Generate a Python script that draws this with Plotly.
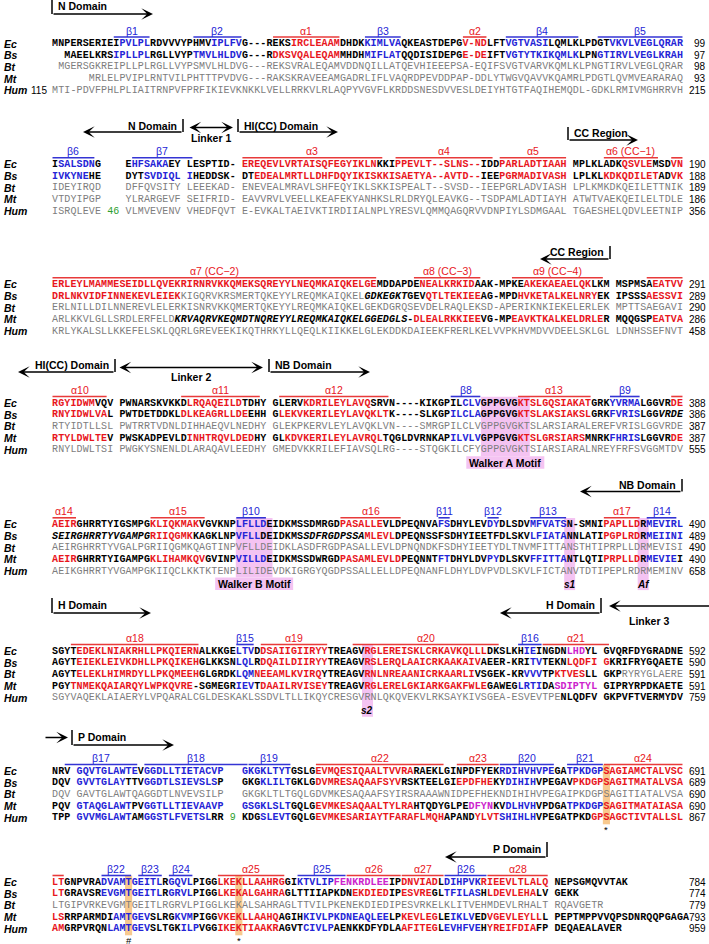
import plotly.graph_objects as go

SPECIES = ["Ec", "Bs", "Bt", "Mt", "Hum"]

# Residue markup: {h:..} helix, {e:..} strand, {m:..} 3-10 helix, {d:..} disordered,
# {n:..} insertion length, {k:..} modelled coil, {u:..} not modelled; other chars use row state.
SEQ_1 = [
    "MNPERSERIEI{e:PVLPL}RDVVVYPHMV{e:IPLFV}G---REKS{h:IRCLEAAM}DHDK{e:KIMLVA}QKEASTDEPG{h:V-ND}LFT{e:VGTVASI}LQMLKLPDGT{e:VKVLVEGLQRAR}",
    "  MAEELKRS{e:IPLLPL}RGLLVYP{e:TMVLHLDV}G---R{h:DKSVQALEQAM}MHDH{e:MIFLAT}QQDISIDEPG{h:E-DE}IFT{e:VGTYTKIKQMLK}LPN{e:GTIRVLVEGLKRAH}",
    " MGERSGKREIPLLPLRGLLVYPSMVLHLDVG---REKSVRALEQAMVDDNQILLATQEVHIEEEPSA-EQIFSVGTVARVKQMLKLPNGTIRVLVEGLQRAR",
    "      MRLELPVIPLRNTVILPHTTTPVDVG---RAKSKRAVEEAMGADRLIFLVAQRDPEVDDPAP-DDLYTWGVQAVVKQAMRLPDGTLQVMVEARARAQ",
    "MTI-PDVFPHLPLIAITRNPVFPRFIKIEVKNKKLVELLRRKVLRLAQPYVGVFLKRDDSNESDVVESLDEIYHTGTFAQIHEMQDL-GDKLRMIVMGHRRVH",
]
SEQ_2 = [
    "I{e:SALSDN}G    E{e:HFSAKA}EY LESPTID- {h:EREQEVLVRTAISQFEGYIKLN}KKI{h:PPEVLT--SLNS--}IDD{h:PARLADTIAAH} MPLKLADK{h:QSVLE}MSD{h:VN}",
    "{e:IVKYNE}HE    DYT{e:SVDIQL} {e:I}HEDDSK- DT{h:EDEALMRTLLDHFDQYIKISKKISAETYA--AVTD--}IEE{h:PGRMADIVASH} LPLKL{h:KDKQDILET}AD{h:VK}",
    "IDEYIRQD    DFFQVSITY LEEEKAD- ENEVEALMRAVLSHFEQYIKLSKKISPEALT--SVSD--IEEPGRLADVIASH LPLKMKDKQEILETTNIK",
    "VTDYIPGP    YLRARGEVF SEIFRID- EAVVRVLVEELLKEAFEKYANHKSLRLDRYQLEAVKG--TSDPAMLADTIAYH ATWTVAEKQEILELTDLE",
    "ISRQLEVE {n:46} VLMVEVENV VHEDFQVT E-EVKALTAEIVKTIRDIIALNPLYRESVLQMMQAGQRVVDNPIYLSDMGAAL TGAESHELQDVLEETNIP",
]
SEQ_3 = [
    "{h:ERLEYLMAMMESEIDLLQVEKRIRNRVKKQMEKSQREYYLNEQMKAIQKELGE}MDDAPDE{h:NEALKRKID}AAK-MPKE{h:AKEKAEAELQK}LKM MSPMSA{h:EATVV}",
    "{h:DRLNKVIDFINNEKEVLEIEK}{u:KIGQRVKRSMERTQKEYYLREQMKAIQKEL}{d:GDKEGKT}GEV{h:QTLTEKIEE}AG-MPD{h:HVKETALKELNRY}EK IPSSS{h:AESSVI}",
    "ERLNILLDILNNEREVLELERKISNRVKKQMERTQKEYYLREQMKAIQKELGEKDGRQSEVDELRAQLEKSD-APERIKNKIEKELERLEK MPTTSAEGAVI",
    "{u:ARLKKVLGLLSRDLERFELD}{d:KRVAQRVKEQMDTNQREYYLREQMKAIQKELGGEDGLS}-{h:DLEALRKKIEE}VG-MP{h:EAVKTKALKELDRLE}R MQQGSP{h:EATVA}",
    "KRLYKALSLLKKEFELSKLQQRLGREVEEKIKQTHRKYLLQEQLKIIKKELGLEKDDKDAIEEKFRERLKELVVPKHVMDVVDEELSKLGL LDNHSSEFNVT",
]
SEQ_4 = [
    "{h:RGYIDWM}VQV PWNARSKVKKD{h:LRQAQEILD}TDHY GLERV{h:KDRILEYLAVQ}SRVN----KIKGPIL{e:CLV}GPPGVG{h:KTSLGQSIAKAT}GRK{e:YVRMA}LGGVR{h:DE}",
    "{h:RNYIDWLVA}L PWTDETDDKL{h:DLKEAGRLLDE}EHH G{h:LEKVKERILEYLAVQKLT}K----SLKGP{e:ILCLA}GPPGVG{h:KTSLAKSIAKSL}GRK{e:FVRIS}LGG{d:VRDE}",
    "RTYIDTLLSL PWTRRTVDNLDIHHAEQVLNEDHY GLEKPKERVLEYLAVQKLVN----SMRGPILCLVGPPGVGKTSLARSIARALEREFVRISLGGVRDE",
    "{h:RTYLDWLTE}V PWSKADPEVLD{h:INHTRQVLDED}HY GL{h:KDVKERILEYLAVRQL}TQGLDVRNKAP{e:ILVLV}GPPGVG{h:KTSLGRSIARS}MNRK{e:FHRIS}LGGVR{h:DE}",
    "RNYLDWLTSI PWGKYSNENLDLARAQAVLEEDHY GMEDVKKRILEFIAVSQLRG----STQGKILCFYGPPGVGKTSIARSIARALNREYFRFSVGGMTDV",
]
SEQ_5 = [
    "{h:AEIR}GHRRTYIGSMPG{h:KLIQKMAK}VGVKNP{e:LFLLD}EIDKMSSDMRGD{h:PASALLE}VLDPEQNVA{e:FS}DHYLEV{e:DY}DLSDV{e:MFVATS}N-SMNI{h:PAPLLD}R{e:MEVIRL}",
    "{d:SEIRGHRRTYVGAMPG}{h:RIIQGMK}KAGKLNP{e:VFLL}DEIDKMS{d:SDFRGDPSSA}{h:MLEVL}DPEQNSSFSDHYIEETFDLSKV{e:LFIATA}NNLATI{h:PGPLRD}R{e:MEIINI}",
    "AEIRGHRRTYVGALPGRIIQGMKQAGTINPVFLLDEIDKLASDFRGDPASALLEVLDPNQNDKFSDHYIEETYDLTNVMFITTANSTHTIPRPLLDRMEVISI",
    "{h:AEIR}GHRRTYIGAMPG{h:KLIHAMKQV}GVINP{e:VILLD}EIDKMSSDWRGD{h:PASAMLEVLD}PEQNNT{e:FT}DHYLDV{e:PY}DLSKV{e:FFITTA}NTLQTI{h:PRPLLD}R{e:MEVIE}I",
    "AEIKGHRRTYVGAMPGKIIQCLKKTKTENPLILIDEVDKIGRGYQGDPSSALLELLDPEQNANFLDHYLDVPVDLSKVLFICTANVTDTIPEPLRDRMEMINV",
]
SEQ_6 = [
    "SGYT{h:EDEKLNIAKRHLLPKQIERN}ALKKGE{e:LTV}D{h:DSAIIGIIRYY}TREAGV{h:RGLEREISKLCRKAVKQLLL}DKSLKH{e:IE}INGDN{m:LHD}YL GVQRFDYGRADNE",
    "AGYT{h:EIEKLEIVKDHLLPKQIKEH}GLKKSN{e:LQL}R{h:DQAILDIIRYY}TREAGV{h:RSLERQLAAICRKAAKAIV}AEER-KRI{e:TV}TEKN{h:LQDFI} {h:G}KRIFRYGQAETE",
    "AGYT{h:ELEKLHIMRDYLLPKQMEEH}GLGRDK{e:LQM}{h:NEEAMLKVIRQ}YTREAGV{h:RNLNREAANICRKAARLI}VSGEK-KR{e:VVV}TP{h:KTVES}LL GKP{u:RYRYGLAERE}",
    "PGY{h:TNMEKQAIARQYLWPKQVRE}-SGMEGR{e:IEV}T{h:DAAILRVISEY}TREAGV{h:RGLERELGKIARKGAKFWLE}GAWEG{e:LRTI}DA{m:SDIPTYL} GIPRYRPDKAETE",
    "SGYVAQEKLAIAERYLVPQARALCGLDESKAKLSSDVLTLLIKQYCRESGVRNLQKQVEKVLRKSAYKIVSGEA-ESVEVTPE{k:NLQDFV} {k:GKPVFTVERMYDV}",
]
SEQ_7 = [
    "NRV {e:GQVTGLAWTE}V{e:GGDLLTIETACVP}   {e:GKGKLTYT}GSLG{h:EVMQESIQAALTVVRA}RAEKLGINPDFYEK{e:RDIHVHVPE}GA{e:TPKDGP}{h:SAGIAMCTALVSC}",
    "DQV {e:GVVTGLAY}TTV{e:GGDTLSIEVSLS}P   GKG{e:KLILT}GKLG{h:DVMRESAQAAFSYV}RSKTEELGI{h:EPDFHE}KY{e:DIHIH}VPEGAV{h:PKDGPSAGITMATALVSA}",
    "DQV GAVTGLAWTQAGGDTLNVEVSILP   GKGKLTLTGQLGDVMKESAQAAFSYIRSRAAAWNIDPEFHEKNDIHIHVPEGAIPKDGPSAGITIATALVSA",
    "PQV {e:GTAQGLAWT}PV{e:GGTLLTIEVAAVP}   {e:GSGKLSLT}GQLG{h:EVMKESAQAALTYLRA}HTQDYGLPE{m:DFYN}KV{e:DLHVH}VPDGA{e:TPKDGP}{h:SAGITMATAIASA}",
    "TPP {e:GVVMGLAWT}AM{e:GGSTLFVETSL}RR {n:9} KDG{e:SLEVT}GQLG{h:EVMKESARIAYTFARAFLMQH}APAND{h:YLVT}{e:SHIHLH}VPEGATPKD{h:GPSAGCTIVTALLSL}",
]
SEQ_8 = [
    "{h:LT}GNPVRA{e:DVAMT}{e:GEITL}R{e:GQVL}PIGG{h:LKEKLLAAHRG}GI{e:KTVLIP}{m:FENKRDLEE}IP{h:DNVIAD}L{e:DIHPVK}{h:RIEEVLTLALQ} NEPSGMQVVTAK",
    "{h:LT}GRAVSR{e:EVGMT}{e:GEITL}R{e:GRVL}PIGG{h:LKEKALGAHRA}GLTTIIAPKDN{h:EKDIED}IP{h:ESVRE}GL{e:TFILAS}H{h:LDEVLEHA}LV GEKK",
    "LTGIPVRKEVGMTGEITLRGRVLPIGGLKEKALSAHRAGLTTVILPKENEKDIEDIPESVRKELKLITVEHMDEVLRHALT RQAVGETR",
    "{h:LS}RRPARMDI{e:AMTGEV}SLRG{e:KVM}PIGG{h:VKEKLLAAHQ}AGIH{e:KIVLPKDNEAQLEE}LP{h:KEVLEG}LE{e:IKLV}ED{h:VGEVLEYLL}L PEPTMPPVVQPSDNRQQPGAGA",
    "{h:AM}GRPVRQN{e:LAMTGEV}SLTGK{e:ILP}VGG{h:IKEKTIAAKR}AGVT{e:CIVLP}AENKKDFYDLA{h:AFITEG}L{e:EVHFVE}H{h:YREIFDIA}FP DEQAEALAVER",
]
BLOCKS = [SEQ_1, SEQ_2, SEQ_3, SEQ_4, SEQ_5, SEQ_6, SEQ_7, SEQ_8]

# default residue state per row (k = modelled, u = not modelled)
ROW_STATE = ["kkuuu", "kkuuu", "kkuku", "kkuku", "kkuku", "kkkku", "kkukk", "kkukk"]

END_NUM = [
    [99, 97, 98, 93, 215],
    [190, 188, 189, 186, 356],
    [291, 289, 290, 286, 458],
    [388, 386, 387, 387, 555],
    [490, 489, 490, 490, 658],
    [592, 590, 591, 591, 759],
    [691, 689, 690, 690, 867],
    [784, 774, 779, 793, 959],
]
HUM_START = 115

# secondary structure elements: (label, type, first column, last column)
SS_1 = [("β1", "E", 10, 15), ("β2", "E", 23, 30), ("α1", "H", 36, 46), ("β3", "E", 51, 56),
        ("α2", "H", 67, 70), ("β4", "E", 74, 85), ("β5", "E", 89, 102)]
SS_2 = [("β6", "E", 0, 6), ("β7", "E", 13, 22), ("α3", "H", 31, 53), ("α4", "H", 56, 71),
        ("α5", "H", 73, 83), ("α6 (CC−1)", "H", 90, 98), ("", "H", 101, 102)]
SS_3 = [("α7 (CC−2)", "H", 0, 52), ("α8 (CC−3)", "H", 59, 69), ("α9 (CC−4)", "H", 75, 89), ("", "H", 97, 102)]
SS_4 = [("α10", "H", 0, 8), ("α11", "H", 21, 33), ("α12", "H", 37, 54), ("β8", "E", 65, 69),
        ("α13", "H", 76, 87), ("β9", "E", 91, 95), ("", "H", 101, 102)]
SS_5 = [("α14", "H", 0, 3), ("α15", "H", 16, 24), ("β10", "E", 30, 34), ("α16", "H", 47, 56),
        ("β11", "E", 63, 64), ("β12", "E", 71, 72), ("β13", "E", 78, 83), ("α17", "H", 90, 95),
        ("β14", "E", 97, 101)]
SS_6 = [("α18", "H", 3, 23), ("β15", "E", 30, 32), ("α19", "H", 34, 44), ("α20", "H", 49, 72),
        ("β16", "E", 76, 79), ("α21", "H", 80, 90)]
SS_7 = [("β17", "E", 2, 13), ("β18", "E", 15, 31), ("β19", "E", 32, 38), ("α22", "H", 43, 63),
        ("α23", "H", 66, 72), ("β20", "E", 73, 81), ("β21", "E", 84, 89), ("α24", "H", 90, 102)]
SS_8 = [("", "H", 0, 1), ("β22", "E", 8, 12), ("β23", "E", 14, 17), ("β24", "E", 19, 22),
        ("α25", "H", 27, 37), ("β25", "E", 40, 47), ("α26", "H", 48, 56), ("α27", "H", 57, 63),
        ("β26", "E", 64, 70), ("α28", "H", 71, 80)]
SS = [SS_1, SS_2, SS_3, SS_4, SS_5, SS_6, SS_7, SS_8]

# motif / site highlights: (block, first col, last col, kind, label)
MOTIFS = [
    (3, 70, 77, "box", "Walker A Motif"),
    (4, 30, 35, "box", "Walker B Motif"),
    (4, 84, 84, "site", "s1"),
    (4, 96, 96, "site", "Af"),
    (5, 51, 51, "site", "s2"),
    (6, 90, 90, "mark", "*"),
    (7, 12, 12, "mark", "#"),
    (7, 30, 30, "mark", "*"),
]

# ---------------- layout constants ----------------
W, H = 709, 944
X0 = 52.0
CW = 6.126
ROW_H = 11.7
BLOCK_Y = [43.5, 164.3, 284.3, 403.0, 524.3, 651.0, 771.0, 882.0]

RED, BLUE, MAG = "#e8161d", "#2424d6", "#cc22cc"
SS_COL = {"H": "#e83a3a", "E": "#3434d4"}
PINK, ORANGE = "#f4c3f2", "#f8c98e"
MONO = "Liberation Mono, Courier New, monospace"
SANS = "Liberation Sans, Arial, sans-serif"

STYLE = {
    "k": ("#000000", "bold", "normal"),
    "u": ("#7d7d7d", "normal", "normal"),
    "h": (RED, "bold", "normal"),
    "e": (BLUE, "bold", "normal"),
    "m": (MAG, "bold", "normal"),
    "d": ("#000000", "bold", "italic"),
    "n": ("#2ea02e", "normal", "normal"),
}


def parse(row, base):
    out, col, i = [], 0, 0
    while i < len(row):
        if row[i] == "{":
            j = row.index(":", i)
            k = row.index("}", j)
            code, seg = row[i + 1:j], row[j + 1:k]
            i = k + 1
        else:
            code, seg = base, row[i]
            i += 1
        for ch in seg:
            if ch != " ":
                out.append((col, ch, code))
            col += 1
    return out


def cx(col):
    return X0 + (col + 0.5) * CW


fig = go.Figure()
shapes, annos = [], []

# residues
groups = {}
for b, rows in enumerate(BLOCKS):
    for r, row in enumerate(rows):
        y = BLOCK_Y[b] + r * ROW_H
        for col, ch, code in parse(row, ROW_STATE[b][r]):
            g = groups.setdefault(code, ([], [], []))
            g[0].append(cx(col)); g[1].append(y); g[2].append(ch)
for code, (xs, ys, ts) in groups.items():
    color, weight, style = STYLE[code]
    fig.add_trace(go.Scatter(
        x=xs, y=ys, text=ts, mode="text", textposition="middle center",
        textfont=dict(family=MONO, size=10, color=color, weight=weight, style=style),
        hoverinfo="skip", cliponaxis=False, showlegend=False))

# species labels and residue numbers
for b in range(len(BLOCKS)):
    for r, name in enumerate(SPECIES):
        y = BLOCK_Y[b] + r * ROW_H
        annos.append(dict(x=2, y=y, text=f"<b><i>{name}</i></b>", xanchor="left", yanchor="middle",
                          showarrow=False, font=dict(family=SANS, size=10.5, color="black")))
        annos.append(dict(x=708, y=y, text=str(END_NUM[b][r]), xanchor="right", yanchor="middle",
                          showarrow=False, font=dict(family=SANS, size=10, color="black")))
annos.append(dict(x=29, y=BLOCK_Y[0] + 4 * ROW_H, text=str(HUM_START), xanchor="left", yanchor="middle",
                  showarrow=False, font=dict(family=SANS, size=10, color="black")))

# secondary structure
for b, elems in enumerate(SS):
    yl = BLOCK_Y[b] - 6.5
    for label, kind, c0, c1 in elems:
        col = SS_COL[kind]
        shapes.append(dict(type="line", x0=X0 + c0 * CW + 0.5, x1=X0 + (c1 + 1) * CW - 0.5,
                           y0=yl, y1=yl, line=dict(color=col, width=1.6)))
        if label:
            annos.append(dict(x=X0 + (c0 + c1 + 1) / 2 * CW, y=BLOCK_Y[b] - 13, text=label,
                              showarrow=False, xanchor="center", yanchor="middle",
                              font=dict(family=SANS, size=10.5, color=RED if kind == "H" else BLUE)))

# motifs
for b, c0, c1, kind, label in MOTIFS:
    ytop = BLOCK_Y[b] - 6.3
    ybot = BLOCK_Y[b] + 4 * ROW_H + 6.5
    if kind == "mark":
        shapes.append(dict(type="rect", x0=X0 + c0 * CW - 0.5, x1=X0 + (c1 + 1) * CW + 0.5,
                           y0=ytop, y1=ybot, fillcolor=ORANGE, line=dict(width=0), layer="below"))
        annos.append(dict(x=cx(c0), y=ybot + 5, text=label, showarrow=False, yanchor="middle",
                          font=dict(family=SANS, size=9.5, color="black")))
        continue
    xc = X0 + (c0 + c1 + 1) / 2 * CW
    if kind == "box":
        shapes.append(dict(type="rect", x0=X0 + c0 * CW, x1=X0 + (c1 + 1) * CW,
                           y0=ytop, y1=ybot, fillcolor=PINK, line=dict(width=0), layer="below"))
        shapes.append(dict(type="rect", x0=xc - 39, x1=xc + 39, y0=ybot, y1=ybot + 12.5,
                           fillcolor=PINK, line=dict(width=0), layer="below"))
        annos.append(dict(x=xc, y=ybot + 6.5, text=f"<b>{label}</b>", showarrow=False, yanchor="middle",
                          font=dict(family=SANS, size=10.5, color="black")))
    else:
        shapes.append(dict(type="rect", x0=xc - 5.5, x1=xc + 5.5, y0=ytop, y1=ybot + 12.5,
                           fillcolor=PINK, line=dict(width=0), layer="below"))
        annos.append(dict(x=xc, y=ybot + 6.5, text=f"<b><i>{label}</i></b>", showarrow=False,
                          yanchor="middle", font=dict(family=SANS, size=10, color="black")))

# domain brackets: (text, bracket x, arrow tip x, text y, arrow y, bracket top y)
DOMAINS = [
    ("N Domain", 52, 153, 6, 14, -1),
    ("N Domain", 183, 83, 125.5, 132, 119),
    ("HI(CC) Domain", 238, 338, 125.5, 132, 119),
    ("CC Region", 568, 638, 133, 140, 127),
    ("CC Region", 610, 540, 252, 259, 246),
    ("HI(CC) Domain", 115, 18, 365, 372, 359),
    ("NB Domain", 269, 370, 365, 372, 359),
    ("NB Domain", 682, 580, 485, 491.5, 479),
    ("H Domain", 52, 151, 605, 613, 598),
    ("H Domain", 601, 500, 605, 613, 598),
    ("P Domain", 72, 174, 737, 745, 730),
    ("P Domain", 547, 445, 849, 857, 842),
]
for text, xb, xt, yt, ya, ytop in DOMAINS:
    shapes.append(dict(type="line", x0=xb, x1=xb, y0=ytop, y1=ya, line=dict(color="black", width=1.5)))
    annos.append(dict(x=xt, y=ya, ax=xb, ay=ya, xref="x", yref="y", axref="x", ayref="y", text="",
                      showarrow=True, arrowhead=3, arrowsize=1.3, arrowwidth=1.5, arrowcolor="black",
                      standoff=0, startstandoff=0))
    right = xt > xb
    annos.append(dict(x=xb + 4 if right else xb - 4, y=yt, text=f"<b>{text}</b>", showarrow=False,
                      xanchor="left" if right else "right", yanchor="middle",
                      font=dict(family=SANS, size=10.5, color="black")))

# linkers: (text, tail x, tip x, arrow y, text y, both heads)
LINKERS = [
    ("Linker 1", 188, 233, 127.5, 138, True),
    ("Linker 2", 118, 263, 367.5, 377, True),
    ("Linker 3", 725, 609, 606, 621, False),
    ("", 44, 68, 737.5, None, False),
]
for text, xa, xt, ya, yt, both in LINKERS:
    a = dict(x=xt, y=ya, ax=xa, ay=ya, xref="x", yref="y", axref="x", ayref="y", text="",
             showarrow=True, arrowhead=3, arrowsize=1.3, arrowwidth=1.5, arrowcolor="black",
             standoff=0, startstandoff=0)
    if both:
        a.update(arrowside="end+start", startarrowhead=3, startarrowsize=1.3)
    annos.append(a)
    if text:
        xc = (xa + xt) / 2 if both else 649
        annos.append(dict(x=xc, y=yt, text=f"<b>{text}</b>", showarrow=False, yanchor="middle",
                          font=dict(family=SANS, size=10.5, color="black")))

fig.update_layout(
    width=W, height=H, autosize=False,
    margin=dict(l=0, r=0, t=0, b=0, pad=0),
    paper_bgcolor="white", plot_bgcolor="white",
    xaxis=dict(range=[0, W], visible=False, fixedrange=True),
    yaxis=dict(range=[H, 0], visible=False, fixedrange=True),
    shapes=shapes, annotations=annos, showlegend=False, hovermode=False,
)

fig.write_html("out.html", config={"displayModeBar": False, "staticPlot": True},
               post_script="document.body.style.margin='0';document.body.style.overflow='hidden';")
